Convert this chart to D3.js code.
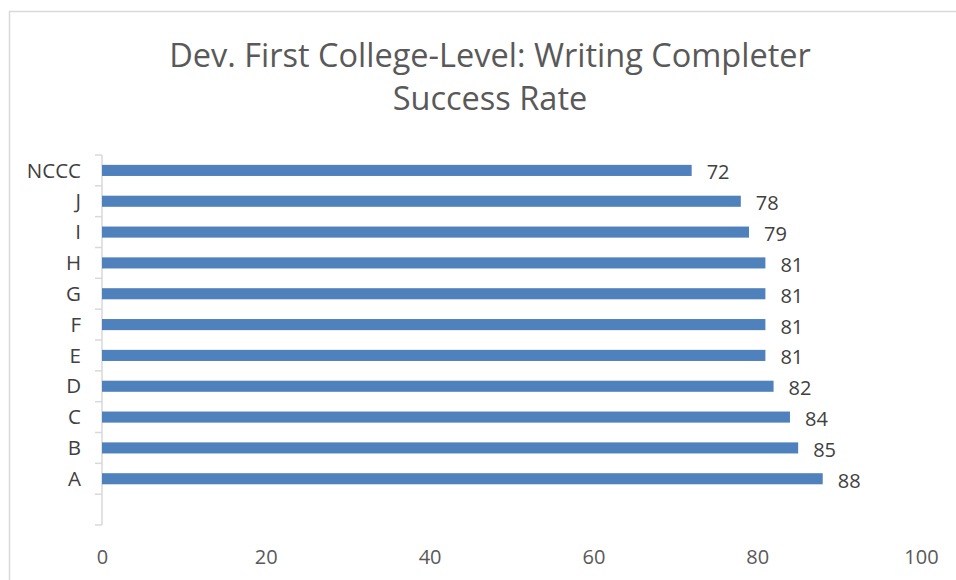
<!DOCTYPE html>
<html>
<head>
<meta charset="utf-8">
<script src="https://cdn.jsdelivr.net/npm/d3@7"></script>
<style>
  body { margin: 0; background: #fff; }
  text { font-family: "Open Sans", sans-serif; }
</style>
</head>
<body>
<div id="chart"></div>
<script>
// data, top to bottom; the last slot is an empty category
const categories = ["NCCC", "J", "I", "H", "G", "F", "E", "D", "C", "B", "A", ""]
const rates = [72, 78, 79, 81, 81, 81, 81, 82, 84, 85, 88, null]
const xTicks = [0, 20, 40, 60, 80, 100]
const titleLines = ["Dev. First College-Level: Writing Completer", "Success Rate"]

const dataset = categories.map((c, i) => ({ cat: c, value: rates[i] }))

const width = 956
const height = 580
const margin = { top: 155, right: 35, bottom: 55, left: 102 }
const boundedWidth = width - margin.left - margin.right
const boundedHeight = height - margin.top - margin.bottom

const svg = d3.select("#chart").append("svg")
  .attr("width", width)
  .attr("height", height)

// chart area border
svg.append("rect")
  .attr("x", 9.5).attr("y", 11.5)
  .attr("width", 960).attr("height", 600)
  .attr("fill", "#fff")
  .attr("stroke", "#d9d9d9")
  .attr("stroke-width", 1.5)

svg.append("text")
  .attr("text-anchor", "middle")
  .attr("fill", "#595959")
  .style("font-size", "32.5px")
  .selectAll("tspan")
  .data(titleLines)
  .join("tspan")
    .attr("x", 490)
    .attr("y", (d, i) => 67 + i * 43)
    .text(d => d)

const bounds = svg.append("g")
  .attr("transform", `translate(${margin.left},${margin.top})`)

const xScale = d3.scaleLinear()
  .domain([0, 100])
  .range([0, 819])

const yScale = d3.scaleBand()
  .domain(categories)
  .range([0, boundedHeight])
  .paddingInner(0.64)
  .paddingOuter(0.32)

// x axis: labels only
const xAxis = bounds.append("g")
  .attr("transform", `translate(0,${boundedHeight})`)
  .call(d3.axisBottom(xScale).tickValues(xTicks).tickSize(0).tickPadding(25))
xAxis.select(".domain").remove()
xAxis.selectAll("text")
  .attr("fill", "#595959")
  .style("font-size", "20px")

// y axis with ticks between categories
const bandStep = yScale.step()
const yAxisG = bounds.append("g")
yAxisG.append("line")
  .attr("x1", 0).attr("x2", 0)
  .attr("y1", 0).attr("y2", boundedHeight)
  .attr("stroke", "#d9d9d9").attr("stroke-width", 1.5)
yAxisG.selectAll(".tick-line")
  .data(d3.range(categories.length + 1))
  .join("line")
    .attr("x1", -7).attr("x2", 0)
    .attr("y1", i => i * bandStep).attr("y2", i => i * bandStep)
    .attr("stroke", "#d9d9d9").attr("stroke-width", 1.5)
yAxisG.selectAll(".cat-label")
  .data(categories)
  .join("text")
    .attr("x", -21)
    .attr("y", d => yScale(d) + yScale.bandwidth() / 2)
    .attr("dy", "0.35em")
    .attr("text-anchor", "end")
    .attr("fill", "#404040")
    .style("font-size", "20.5px")
    .text(d => d)

const barData = dataset.filter(d => d.value != null)

bounds.selectAll(".bar")
  .data(barData)
  .join("rect")
    .attr("x", 0)
    .attr("y", d => yScale(d.cat))
    .attr("width", d => xScale(d.value))
    .attr("height", yScale.bandwidth())
    .attr("fill", "#4f81bd")

bounds.selectAll(".value")
  .data(barData)
  .join("text")
    .attr("x", d => xScale(d.value) + 15)
    .attr("y", d => yScale(d.cat) + yScale.bandwidth() / 2 + 2)
    .attr("dy", "0.35em")
    .attr("fill", "#404040")
    .style("font-size", "20px")
    .text(d => d.value)
</script>
</body>
</html>
